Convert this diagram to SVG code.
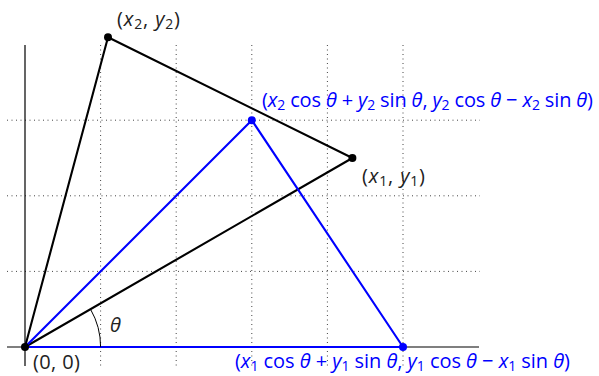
<svg xmlns="http://www.w3.org/2000/svg" width="599" height="376" viewBox="0 0 599 376">
<style>
.grid{stroke:#444;stroke-width:1;stroke-dasharray:1 3.5;fill:none}
.axis{stroke:#000;stroke-width:1.2;fill:none}
.blk{stroke:#000;stroke-width:2.1;fill:none;stroke-linejoin:round}
.blu{stroke:#0000ff;stroke-width:2.1;fill:none;stroke-linejoin:round}
text{font-family:"Open Sans","DejaVu Sans",sans-serif;font-size:20px}
.lb{fill:#222}
.lbb{fill:#0000ff}
.v{font-style:italic}
.s{font-size:14px}
</style>
<rect width="599" height="376" fill="#fff"/>
<g id="grid">
<path class="grid" d="M7 120.2H480M7 195.8H480M7 271.4H480M100.6 45V367M176.2 45V367M251.8 45V367M327.4 45V367M403 45V367"/>
</g>
<g id="axes">
<path class="axis" d="M7 347H479M25 45V366"/>
</g>
<g id="connectors">
<path class="blk" d="M25 347L352.4 158L108 37.2Z"/>
<path class="blu" d="M25 347L251.8 120.2L403 347Z"/>
<path d="M100.6 347A75.6 75.6 0 0 0 90.5 309.2" stroke="#000" stroke-width="1" fill="none"/>
</g>
<g id="origin">
<circle cx="25" cy="347" r="4" fill="#000"/>
<text class="lb" x="33" y="369" textLength="47" lengthAdjust="spacing">(0, 0)</text>
</g>
<g id="p2">
<circle cx="108" cy="37.2" r="4" fill="#000"/>
<text class="lb" x="117" y="26" textLength="63" lengthAdjust="spacing">(<tspan class="v">x</tspan><tspan class="s" dy="3">2</tspan><tspan dy="-3">, </tspan><tspan class="v">y</tspan><tspan class="s" dy="3">2</tspan><tspan dy="-3">)</tspan></text>
</g>
<g id="p1">
<circle cx="352.4" cy="158" r="4" fill="#000"/>
<text class="lb" x="362" y="183" textLength="63" lengthAdjust="spacing">(<tspan class="v">x</tspan><tspan class="s" dy="3">1</tspan><tspan dy="-3">, </tspan><tspan class="v">y</tspan><tspan class="s" dy="3">1</tspan><tspan dy="-3">)</tspan></text>
</g>
<g id="p2r">
<circle cx="251.8" cy="120.2" r="4" fill="#0000ff"/>
<text class="lbb" x="262" y="107" textLength="331" lengthAdjust="spacing">(<tspan class="v">x</tspan><tspan class="s" dy="3">2</tspan><tspan dy="-3"> cos </tspan><tspan class="v">θ</tspan> + <tspan class="v">y</tspan><tspan class="s" dy="3">2</tspan><tspan dy="-3"> sin </tspan><tspan class="v">θ</tspan>, <tspan class="v">y</tspan><tspan class="s" dy="3">2</tspan><tspan dy="-3"> cos </tspan><tspan class="v">θ</tspan> − <tspan class="v">x</tspan><tspan class="s" dy="3">2</tspan><tspan dy="-3"> sin </tspan><tspan class="v">θ</tspan>)</text>
</g>
<g id="p1r">
<circle cx="403" cy="347" r="4" fill="#0000ff"/>
<text class="lbb" x="235" y="368" textLength="335" lengthAdjust="spacing">(<tspan class="v">x</tspan><tspan class="s" dy="3">1</tspan><tspan dy="-3"> cos </tspan><tspan class="v">θ</tspan> + <tspan class="v">y</tspan><tspan class="s" dy="3">1</tspan><tspan dy="-3"> sin </tspan><tspan class="v">θ</tspan>, <tspan class="v">y</tspan><tspan class="s" dy="3">1</tspan><tspan dy="-3"> cos </tspan><tspan class="v">θ</tspan> − <tspan class="v">x</tspan><tspan class="s" dy="3">1</tspan><tspan dy="-3"> sin </tspan><tspan class="v">θ</tspan>)</text>
</g>
<g id="theta">
<text class="lb v" x="110" y="332">θ</text>
</g>
</svg>
